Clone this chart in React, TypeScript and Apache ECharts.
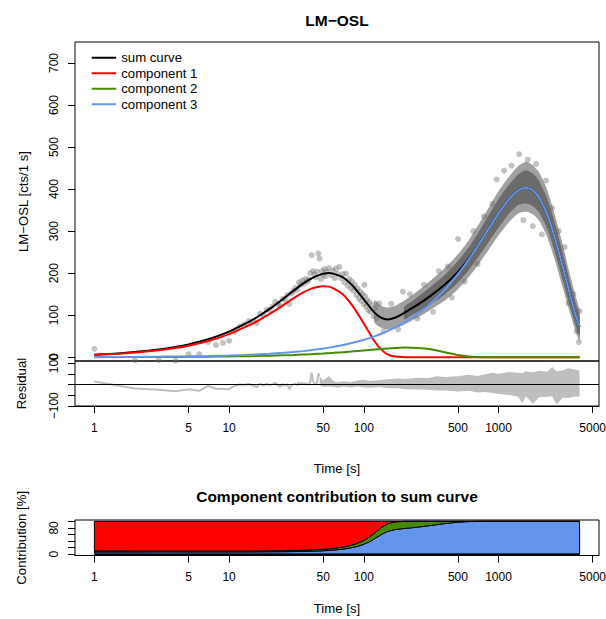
import React, { useEffect, useRef } from "react";
import * as echarts from "echarts";

// ---------- fitted curves ----------
const curveT = [1, 1.5, 2, 3, 4, 5, 7, 10, 13, 16, 20, 25, 30, 35, 40, 45, 50, 55, 60, 70, 80, 90, 100, 110, 120, 135, 150, 170, 200, 230, 270, 320, 400, 500, 600, 700, 850, 1000, 1200, 1400, 1600, 1800, 2000, 2300, 2600, 3000, 3400, 3700, 4000];
const sumCurve = [6.1, 8.9, 12.2, 18.3, 24.4, 30.5, 42.7, 61.0, 78.7, 94.5, 114.9, 137.9, 157.8, 173.8, 185.7, 193.7, 198.5, 200.4, 198.3, 190.0, 174.6, 156.1, 137.5, 120.8, 106.1, 93.7, 90.0, 93.8, 105.5, 117.3, 131.8, 148.4, 172.8, 203.0, 234.1, 264.7, 306.6, 341.6, 376.2, 396.5, 403, 397, 380, 340, 288, 215, 148, 106, 73];
const comp1 = [5.5, 8, 11, 16.5, 22, 27.5, 38.5, 55, 71, 85, 103, 123, 140, 153, 162, 167, 169, 168, 163, 149, 128, 104, 80, 58, 38, 18, 7, 1.5, 0.2, 0, 0, 0, 0, 0, 0, 0, 0, 0, 0, 0, 0, 0, 0, 0, 0, 0, 0, 0, 0];
const comp2 = [0.2, 0.3, 0.4, 0.5, 0.7, 0.9, 1.3, 1.8, 2.3, 2.9, 3.6, 4.5, 5.4, 6.3, 7.1, 8.0, 8.8, 9.6, 10.4, 12.0, 13.4, 14.8, 16.1, 17.3, 18.4, 19.8, 21.0, 22.1, 22.9, 22.8, 21.3, 18.1, 11.8, 5.3, 1.8, 0.5, 0.1, 0, 0, 0, 0, 0, 0, 0, 0, 0, 0, 0, 0];
const comp3 = [0.4, 0.6, 0.8, 1.3, 1.7, 2.1, 2.9, 4.2, 5.4, 6.6, 8.3, 10.4, 12.4, 14.5, 16.6, 18.7, 20.7, 22.8, 24.9, 29.0, 33.2, 37.3, 41.4, 45.5, 49.7, 55.9, 62.0, 70.2, 82.4, 94.5, 110.5, 130.3, 161.0, 197.7, 232.3, 264.2, 306.5, 341.6, 376.2, 396.5, 403, 397, 380, 340, 288, 215, 148, 106, 73];

// ---------- measured points ----------
const earlyT = [1, 2, 3, 4, 5, 6, 7, 8, 9, 10, 11, 12, 13, 14, 15, 16, 17, 18, 19, 20, 21, 22, 23, 24, 25, 26, 27, 28, 29, 30, 31, 32, 33, 34, 35, 36, 37, 38, 39, 40, 41, 42, 43, 44, 45, 46, 47];
const earlyV = [20, -7, -7, -8, 7, 7, 36, 29, 34, 39, 61, 73, 78, 86, 85, 81, 104, 100, 113, 112, 121, 132, 126, 123, 139, 137, 148, 127, 152, 158, 165, 160, 178, 172, 183, 175, 186, 180, 185, 200, 243, 205, 197, 190, 204, 247, 235];
const midT = [48, 49, 50, 51, 52, 53, 55, 57, 59, 61, 62, 64, 66, 68, 70, 72, 74, 76, 78, 80, 82, 84, 86, 88, 90, 92, 94, 96, 98, 100, 101, 102, 104, 106, 108, 110, 112, 115, 118, 121, 124];
const midV = [186, 205, 196, 210, 192, 204, 212, 195, 206, 188, 211, 199, 215, 188, 198, 178, 199, 170, 186, 164, 180, 158, 172, 148, 163, 140, 156, 134, 150, 126, 172, 145, 120, 136, 112, 131, 108, 124, 98, 117, 92];
const outT = [130, 140, 160, 180, 195, 220, 250, 280, 327, 360, 420, 450, 501, 560, 650, 700, 780, 900, 967, 1100, 1250, 1425, 1530, 1650, 1800, 1900, 2100, 2250, 2500, 2800, 3100, 3300, 3600, 3800, 3950, 4000];
const outV = [128, 62, 127, 66, 156, 150, 92, 172, 108, 205, 216, 142, 281, 180, 300, 222, 335, 365, 423, 444, 456, 483, 326, 470, 312, 460, 292, 420, 355, 300, 262, 128, 150, 62, 36, 110];

// point cloud envelope: sparse outer fringe (t >= 120) and dense core (t >= 200)
const outerT = [120, 135, 150, 170, 200, 230, 270, 320, 400, 500, 600, 700, 850, 1000, 1200, 1400, 1600, 1800, 2000, 2300, 2600, 3000, 3400, 3700, 4000];
const outerLo = [82, 70, 66, 68, 78, 88, 100, 115, 135, 162, 190, 218, 257, 290, 322, 342, 346, 340, 325, 286, 235, 165, 104, 66, 38];
const outerHi = [135, 122, 118, 122, 135, 148, 165, 185, 212, 245, 278, 312, 357, 395, 430, 455, 465, 457, 440, 398, 342, 268, 195, 150, 112];
const innerT = [200, 230, 270, 320, 400, 500, 600, 700, 850, 1000, 1200, 1400, 1600, 1800, 2000, 2300, 2600, 3000, 3400, 3700, 4000];
const innerLo = [90, 101, 113, 128, 150, 178, 207, 236, 276, 308, 342, 362, 366, 360, 345, 306, 254, 183, 120, 80, 50];
const innerHi = [120, 134, 151, 170, 196, 229, 261, 294, 339, 376, 411, 435, 445, 437, 419, 377, 323, 249, 178, 134, 98];

// ---------- residuals ----------
const resT = earlyT;
const resV = [14, -19, -25, -32, -23, -30, -7, -20, -21, -22, -6, 0, -1, 2, -4, -13, 4, -5, 3, -3, 1, 8, -3, -11, 1, -5, 2, -23, -2, 0, 4, -4, 10, 1, 9, -1, 7, -1, 1, 14, 55, 16, 6, -2, 10, 52, 39];
const rbandT = [47, 50, 55, 60, 65, 70, 80, 90, 100, 110, 130, 150, 180, 200, 250, 300, 350, 400, 500, 600, 700, 800, 900, 1000, 1200, 1400, 1500, 1600, 1800, 2000, 2300, 2500, 2700, 3000, 3300, 3600, 4000];
const rbandLo = [-5, -12, -10, -12, -15, -10, -14, -10, -14, -15, -12, -18, -18, -22, -24, -25, -28, -28, -33, -30, -38, -35, -40, -45, -50, -58, -88, -55, -92, -60, -58, -55, -94, -62, -64, -58, -55];
const rbandHi = [39, 18, 40, 15, 12, 15, 12, 18, 22, 16, 20, 24, 28, 26, 32, 30, 38, 35, 38, 45, 40, 48, 55, 50, 58, 55, 52, 62, 56, 64, 60, 82, 62, 66, 76, 70, 66];

// ---------- axes ----------
const xTickValues = [1, 5, 10, 50, 100, 500, 1000, 5000];
const yTickValues = [0, 100, 200, 300, 400, 500, 600, 700];
const resTickValues = [-100, -50, 0, 50, 100];
const resLabelValues = [-100, 100];
const pctTickValues = [0, 20, 40, 60, 80, 100];
const pctLabelValues = [0, 80];
const legendNames = ["sum curve", "component 1", "component 2", "component 3"];

const FONT = '"Liberation Sans", Arial, Helvetica, sans-serif';
const X_MIN = 0.7177;
const X_MAX = 5573;
const RED = "#FF0000";
const GREEN = "#458B00";
const BLUE = "#6495ED";
const BLACK = "#000000";
const RESID = "#BEBEBE";

const zip = (xs: number[], ys: number[]) => xs.map((x, i) => [x, ys[i]]);
const fmt = (v: number) => (v < 0 ? "\u2212" + Math.abs(Math.round(v)) : String(Math.round(v)));

function xAxis(gridIndex: number, visible: boolean, margin: number, nameGap: number) {
  return {
    gridIndex,
    type: "log",
    logBase: 10,
    min: X_MIN,
    max: X_MAX,
    axisLine: { show: visible, onZero: false, lineStyle: { color: BLACK, width: 1 } },
    axisTick: { show: visible, customValues: xTickValues, length: 7, inside: false, lineStyle: { color: BLACK, width: 1 } },
    axisLabel: { show: visible, customValues: xTickValues, margin, color: BLACK, fontSize: 12, fontFamily: FONT, formatter: (v: number) => String(Math.round(v)) },
    splitLine: { show: false },
    minorTick: { show: false },
    minorSplitLine: { show: false },
    name: visible ? "Time [s]" : "",
    nameLocation: "middle",
    nameGap,
    nameMoveOverlap: false,
    nameTextStyle: { color: BLACK, fontSize: 13.2, fontFamily: FONT },
  };
}

function yAxis(gridIndex: number, min: number, max: number, ticks: number[], labels: number[], name: string, nameGap: number) {
  return {
    gridIndex,
    type: "value",
    min,
    max,
    axisLine: { show: false, onZero: false },
    axisTick: { show: true, customValues: ticks, length: 7, inside: false, lineStyle: { color: BLACK, width: 1 } },
    axisLabel: { show: true, customValues: labels, rotate: 90, margin: 15, color: BLACK, fontSize: 12, fontFamily: FONT, formatter: fmt },
    splitLine: { show: false },
    name,
    nameLocation: "middle",
    nameRotate: 90,
    nameGap,
    nameMoveOverlap: false,
    nameTextStyle: { color: BLACK, fontSize: 13.2, fontFamily: FONT },
  };
}

const gridBase = { show: true, borderColor: BLACK, borderWidth: 1, backgroundColor: "transparent", containLabel: false, outerBoundsMode: "none" };

function lineSeries(name: string | undefined, data: number[][], color: string, width: number, xi: number, extra: any = {}) {
  return {
    type: "line",
    name,
    xAxisIndex: xi,
    yAxisIndex: xi,
    data,
    symbol: "none",
    smooth: 0.3,
    silent: true,
    animation: false,
    itemStyle: { color },
    lineStyle: { color, width },
    emphasis: { disabled: true },
    ...extra,
  };
}

// filled region between two value lists, drawn through the axes' own scales
function bandSeries(xs: number[], lo: number[], hi: number[], fill: string, xi: number, stroke = "none", lineWidth = 0, smooth = 0) {
  return {
    type: "custom",
    xAxisIndex: xi,
    yAxisIndex: xi,
    silent: true,
    animation: false,
    data: [[xs[0], lo[0]]],
    renderItem: (_params: any, api: any) => {
      const upper = xs.map((x, i) => api.coord([x, hi[i]]));
      const lower = xs.map((x, i) => api.coord([x, lo[i]])).reverse();
      return {
        type: "polygon",
        shape: { points: [...upper, ...lower], smooth },
        style: { fill, stroke, lineWidth },
      };
    },
  };
}

export default function App() {
  const ref = useRef<HTMLDivElement>(null);

  useEffect(() => {
    if (!ref.current) return;
    const chart = echarts.init(ref.current, null, { renderer: "svg" });

    const total = curveT.map((_, i) => comp1[i] + comp2[i] + comp3[i]);
    const zero = curveT.map(() => 0);
    const full = curveT.map(() => 100);
    const cum3 = comp3.map((v, i) => (100 * v) / total[i]);
    const cum32 = comp2.map((v, i) => cum3[i] + (100 * v) / total[i]);

    const obsData = [...zip(earlyT, earlyV), ...zip(midT, midV), ...zip(outT, outV)];

    const option: any = {
      animation: false,
      backgroundColor: "#ffffff",
      textStyle: { fontFamily: FONT },
      graphic: [
        {
          type: "text",
          x: 337,
          y: 20,
          style: { text: "LM\u2212OSL", textAlign: "center", textVerticalAlign: "middle", fontSize: 15.5, fontWeight: "bold", fontFamily: FONT, fill: BLACK },
        },
        {
          type: "text",
          x: 337,
          y: 496,
          style: { text: "Component contribution to sum curve", textAlign: "center", textVerticalAlign: "middle", fontSize: 15.5, fontWeight: "bold", fontFamily: FONT, fill: BLACK },
        },
      ],
      legend: {
        data: legendNames,
        orient: "vertical",
        left: 86.7,
        top: 45,
        icon: "rect",
        itemWidth: 24.5,
        itemHeight: 2,
        itemGap: 0,
        selectedMode: false,
        textStyle: { fontSize: 13.2, fontFamily: FONT, color: BLACK, lineHeight: 15.5, padding: [0, 0, 0, 0] },
      },
      grid: [
        { ...gridBase, left: 75, top: 42, width: 524, height: 319 },
        { ...gridBase, left: 75, top: 361, width: 524, height: 45 },
        { ...gridBase, left: 75, top: 520, width: 524, height: 35.5 },
      ],
      xAxis: [xAxis(0, false, 16, 0), xAxis(1, true, 16, 56), xAxis(2, true, 15, 46)],
      yAxis: [
        yAxis(0, -9, 750, yTickValues, yTickValues, "LM\u2212OSL [cts/1 s]", 45),
        yAxis(1, -101, 110, resTickValues, resLabelValues, "Residual", 47),
        yAxis(2, -4, 104, pctTickValues, pctLabelValues, "Contribution [%]", 47),
      ],
      series: [
        // point cloud
        bandSeries(outerT, outerLo, outerHi, "rgba(102,102,102,0.62)", 0, "none", 0, 0.2),
        bandSeries(innerT, innerLo, innerHi, "rgba(102,102,102,0.92)", 0, "none", 0, 0.2),
        {
          type: "scatter",
          xAxisIndex: 0,
          yAxisIndex: 0,
          data: obsData,
          symbol: "circle",
          symbolSize: 6,
          silent: true,
          itemStyle: { color: "rgba(102,102,102,0.5)" },
          emphasis: { disabled: true },
        },
        lineSeries("sum curve", zip(curveT, sumCurve), BLACK, 2, 0),
        lineSeries("component 1", zip(curveT, comp1), RED, 2, 0),
        lineSeries("component 2", zip(curveT, comp2), GREEN, 2, 0),
        lineSeries("component 3", zip(curveT, comp3), BLUE, 2, 0),
        // residuals
        bandSeries(rbandT, rbandLo, rbandHi, RESID, 1),
        lineSeries(undefined, zip(resT, resV), RESID, 2, 1, { smooth: false }),
        lineSeries(undefined, [[1, 0]], BLACK, 1, 1, {
          z: 10,
          markLine: {
            silent: true,
            symbol: "none",
            label: { show: false },
            lineStyle: { color: BLACK, width: 1, type: "solid" },
            data: [{ yAxis: 0 }],
          },
        }),
        // contribution
        bandSeries(curveT, zero, cum3, BLUE, 2, BLACK, 1),
        bandSeries(curveT, cum3, cum32, GREEN, 2, BLACK, 1),
        bandSeries(curveT, cum32, full, RED, 2, BLACK, 1),
        lineSeries(undefined, zip([1, 4000], [0, 0]), BLACK, 1.5, 2, { smooth: false }),
      ],
    };

    chart.setOption(option);
    return () => chart.dispose();
  }, []);

  return <div ref={ref} style={{ position: "fixed", left: 0, top: 0, width: 606, height: 619 }} />;
}
